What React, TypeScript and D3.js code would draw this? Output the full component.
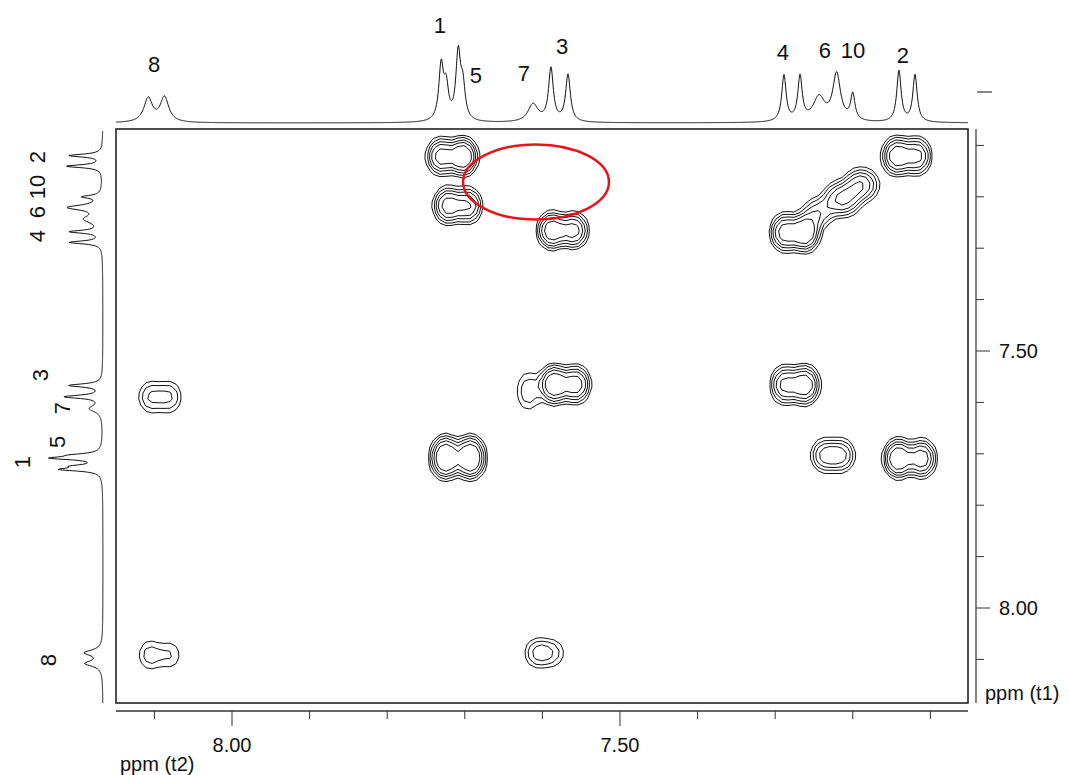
import React, { useMemo } from "react";
import * as d3 from "d3";

// ---- 1D proton spectrum: line positions (ppm), intensities, half-widths (ppm)
const linePpm = [8.108, 8.087, 7.7305, 7.724, 7.7085, 7.7025, 7.612, 7.589, 7.567, 7.2887, 7.268, 7.2436, 7.2208, 7.2, 7.1405, 7.1198];
const lineIntensity = [24, 25, 54, 32, 66, 32, 18, 53, 47, 46, 44, 24, 47, 26, 51, 47];
const lineWidth = [0.0066, 0.0066, 0.0036, 0.0036, 0.0036, 0.0036, 0.0078, 0.0037, 0.0037, 0.0034, 0.0034, 0.009, 0.006, 0.0034, 0.0034, 0.0034];

// ---- 2D COSY cross / diagonal peaks
// t2, t1 in ppm; amp = relative intensity; jx, jy = splitting (ppm); skew = lobe imbalance
const crossT2 = [7.7165, 7.7088, 7.5735, 7.1302, 7.2745, 7.2449, 7.214, 7.1881, 7.5709, 7.618, 7.7088, 8.0928, 7.2745, 7.2255, 7.1263, 8.0928, 7.5966];
const crossT1 = [7.1207, 7.218, 7.2646, 7.1207, 7.2685, 7.2315, 7.2043, 7.177, 7.566, 7.578, 7.706, 7.5895, 7.566, 7.7023, 7.7082, 8.0914, 8.0875];
const crossAmp = [1.0, 0.8, 0.9, 0.9, 1.0, 0.4, 0.72, 0.62, 1.0, 0.3, 1.15, 0.36, 0.9, 0.62, 1.0, 0.27, 0.42];
const crossJx = [0.028, 0.026, 0.028, 0.026, 0.026, 0.01, 0.016, 0.014, 0.028, 0.002, 0.032, 0.024, 0.026, 0.022, 0.03, 0.026, 0.02];
const crossJy = [0.016, 0.016, 0.014, 0.018, 0.018, 0.01, 0.014, 0.012, 0.018, 0.03, 0.024, 0.018, 0.02, 0.014, 0.018, 0.018, 0.006];
const crossSkewX = [-0.12, 0.1, 0.1, 0.1, -0.1, 0, 0, 0.1, 0.1, 0, 0, 0, -0.1, 0, 0.1, 0.12, 0.15];
const crossSkewY = [0.1, -0.1, 0.12, 0, 0.1, 0, 0, 0, -0.1, 0, 0.1, 0, 0, 0.1, 0.1, 0, 0];

// contour levels
const contourLevels = [0.12, 0.2, 0.3, 0.42, 0.6];

// axis ticks
const t2Ticks = [8.1, 8.0, 7.9, 7.8, 7.7, 7.6, 7.5, 7.4, 7.3, 7.2, 7.1];
const t1Ticks = [7.1, 7.2, 7.3, 7.4, 7.5, 7.6, 7.7, 7.8, 7.9, 8.0, 8.1];
const labelledTicks = [8.0, 7.5];

// assignment labels
const topLabelText = ["8", "1", "5", "7", "3", "4", "6", "10", "2"];
const topLabelPpm = [8.1005, 7.732, 7.6856, 7.6237, 7.5747, 7.29, 7.2358, 7.1997, 7.1353];
const leftLabelText = ["8", "1", "5", "7", "3", "4", "6", "10", "2"];
const leftLabelPpm = [8.1012, 7.716, 7.677, 7.6109, 7.5467, 7.2763, 7.2296, 7.1809, 7.1226];

// highlighted region (ppm)
const highlight = { t2: 7.6082, t1: 7.1712, rt2: 0.094, rt1: 0.073 };

// ---- layout
const W = 1069;
const H = 775;
const plot = { left: 116, right: 968, top: 129, bottom: 703 };
const topBaseline = 123;
const leftBaseline = 103;
const leftGain = 0.7;
const topLabelY = [64, 25, 75, 73, 46, 52, 50, 50, 55];
const leftLabelX = [48, 22, 57, 62, 40, 37, 37, 37, 37];
const FONT = "'Liberation Sans', Arial, Helvetica, sans-serif";
const INK = "#111";

const x = d3.scaleLinear().domain([8.1495, 7.0515]).range([plot.left, plot.right]);
const y = d3.scaleLinear().domain([7.0681, 8.1848]).range([plot.top, plot.bottom]);
const intensity = d3.scaleLinear().domain([0, 100]).range([0, 100]);

function spectrum(ppm: number): number {
  let s = 0;
  for (let i = 0; i < linePpm.length; i++) {
    const d = (ppm - linePpm[i]) / lineWidth[i];
    s += lineIntensity[i] / (1 + d * d);
  }
  return s;
}

// lobe shape of the cross peaks (slightly flat-topped after apodisation)
const SX = 0.0116;
const SY = 0.0205;
const SHAPE_P = 1.2;
const SIGNS = [-0.5, 0.5];

function rawPeak(k: number, dx0: number, dy0: number): number {
  let s = 0;
  for (const ax of SIGNS) {
    const wx = 1 + crossSkewX[k] * Math.sign(ax);
    const dx = (dx0 - ax * crossJx[k]) / SX;
    for (const ay of SIGNS) {
      const wy = 1 + crossSkewY[k] * Math.sign(ay);
      const dy = (dy0 - ay * crossJy[k]) / SY;
      const r2 = dx * dx + dy * dy;
      s += wx * wy * Math.exp(-0.5 * Math.pow(r2, SHAPE_P));
    }
  }
  return s;
}

const peakNorm = crossT2.map((_, k) => {
  let m = 0;
  for (let i = -20; i <= 20; i++) {
    for (let j = -20; j <= 20; j++) {
      m = Math.max(m, rawPeak(k, i * 0.002, j * 0.002));
    }
  }
  return m;
});

function surface(t2: number, t1: number): number {
  let s = 0;
  for (let k = 0; k < crossT2.length; k++) {
    const dx0 = t2 - crossT2[k];
    const dy0 = t1 - crossT1[k];
    if (Math.abs(dx0) > 0.08 || Math.abs(dy0) > 0.11) continue;
    s += (crossAmp[k] / peakNorm[k]) * rawPeak(k, dx0, dy0);
  }
  return s;
}

export default function App() {
  const topPath = useMemo(() => {
    const pts: [number, number][] = [];
    for (let px = plot.left; px <= plot.right; px += 0.5) {
      pts.push([px, topBaseline - intensity(spectrum(x.invert(px)))]);
    }
    return d3.line()(pts) as string;
  }, []);

  const leftPath = useMemo(() => {
    const pts: [number, number][] = [];
    for (let py = plot.top + 2; py <= plot.bottom; py += 0.5) {
      pts.push([leftBaseline - leftGain * intensity(spectrum(y.invert(py))), py]);
    }
    return d3.line()(pts) as string;
  }, []);

  const contourPaths = useMemo(() => {
    const cell = 6;
    const nx = Math.ceil((plot.right - plot.left) / cell) + 1;
    const ny = Math.ceil((plot.bottom - plot.top) / cell) + 1;
    const values = new Array(nx * ny);
    for (let j = 0; j < ny; j++) {
      for (let i = 0; i < nx; i++) {
        values[j * nx + i] = surface(x.invert(plot.left + i * cell), y.invert(plot.top + j * cell));
      }
    }
    const contours = d3.contours().size([nx, ny]).thresholds(contourLevels)(values);
    const proj = d3.geoTransform({
      point(px: number, py: number) {
        (this as any).stream.point(plot.left + (px - 0.5) * cell, plot.top + (py - 0.5) * cell);
      },
    });
    const path = d3.geoPath(proj);
    return contours.map((c) => path(c as any) as string);
  }, []);

  const axisY = plot.bottom + 8;
  const axisX = plot.right + 8;

  return (
    <svg width={W} height={H} style={{ position: "absolute", left: 0, top: 0, background: "#fff" }} fontFamily={FONT}>
      <defs>
        <clipPath id="plotClip">
          <rect x={plot.left} y={plot.top} width={plot.right - plot.left} height={plot.bottom - plot.top} />
        </clipPath>
      </defs>

      {/* 1D projections */}
      <path d={topPath} fill="none" stroke={INK} strokeWidth={1} />
      <path d={leftPath} fill="none" stroke={INK} strokeWidth={1} />
      <line x1={977} x2={992} y1={92} y2={92} stroke={INK} strokeWidth={1} />

      {/* contour map */}
      <g clipPath="url(#plotClip)">
        {contourPaths.map((d, i) => (
          <path key={i} d={d} fill="none" stroke={INK} strokeWidth={1} strokeLinejoin="round" />
        ))}
      </g>

      {/* frame */}
      <rect x={plot.left} y={plot.top} width={plot.right - plot.left} height={plot.bottom - plot.top} fill="none" stroke="#222" strokeWidth={1.6} />

      {/* highlighted region */}
      <ellipse
        cx={x(highlight.t2)}
        cy={y(highlight.t1)}
        rx={Math.abs(x(highlight.t2 + highlight.rt2) - x(highlight.t2))}
        ry={Math.abs(y(highlight.t1 + highlight.rt1) - y(highlight.t1))}
        fill="none"
        stroke="#e8141c"
        strokeWidth={2.5}
      />

      {/* t2 axis */}
      <line x1={plot.left} x2={plot.right} y1={axisY} y2={axisY} stroke="#333" strokeWidth={1.6} />
      {t2Ticks.map((t) => {
        const major = labelledTicks.some((m) => Math.abs(m - t) < 1e-6);
        return (
          <g key={`t2-${t}`}>
            <line x1={x(t)} x2={x(t)} y1={axisY} y2={axisY + (major ? 15 : 8)} stroke="#333" strokeWidth={1} />
            {major && (
              <text x={x(t)} y={752} textAnchor="middle" fontSize={20} fill={INK}>
                {t.toFixed(2)}
              </text>
            )}
          </g>
        );
      })}
      <text x={120} y={771} fontSize={20} fill={INK}>ppm (t2)</text>

      {/* t1 axis */}
      <line x1={axisX} x2={axisX} y1={plot.top} y2={plot.bottom} stroke="#333" strokeWidth={1.2} />
      {t1Ticks.map((t) => {
        const major = labelledTicks.some((m) => Math.abs(m - t) < 1e-6);
        return (
          <g key={`t1-${t}`}>
            <line x1={axisX} x2={axisX + (major ? 14 : 8)} y1={y(t)} y2={y(t)} stroke="#333" strokeWidth={1} />
            {major && (
              <text x={axisX + 23} y={y(t)} dy="0.35em" fontSize={20} fill={INK}>
                {t.toFixed(2)}
              </text>
            )}
          </g>
        );
      })}
      <text x={985} y={700} fontSize={20} fill={INK}>ppm (t1)</text>

      {/* assignments */}
      {topLabelText.map((s, i) => (
        <text key={`tl-${i}`} x={x(topLabelPpm[i])} y={topLabelY[i]} dy="0.35em" textAnchor="middle" fontSize={22} fill={INK}>
          {s}
        </text>
      ))}
      {leftLabelText.map((s, i) => (
        <text
          key={`ll-${i}`}
          transform={`translate(${leftLabelX[i]},${y(leftLabelPpm[i])}) rotate(-90)`}
          dy="0.35em"
          textAnchor="middle"
          fontSize={22}
          fill={INK}
        >
          {s}
        </text>
      ))}
    </svg>
  );
}
